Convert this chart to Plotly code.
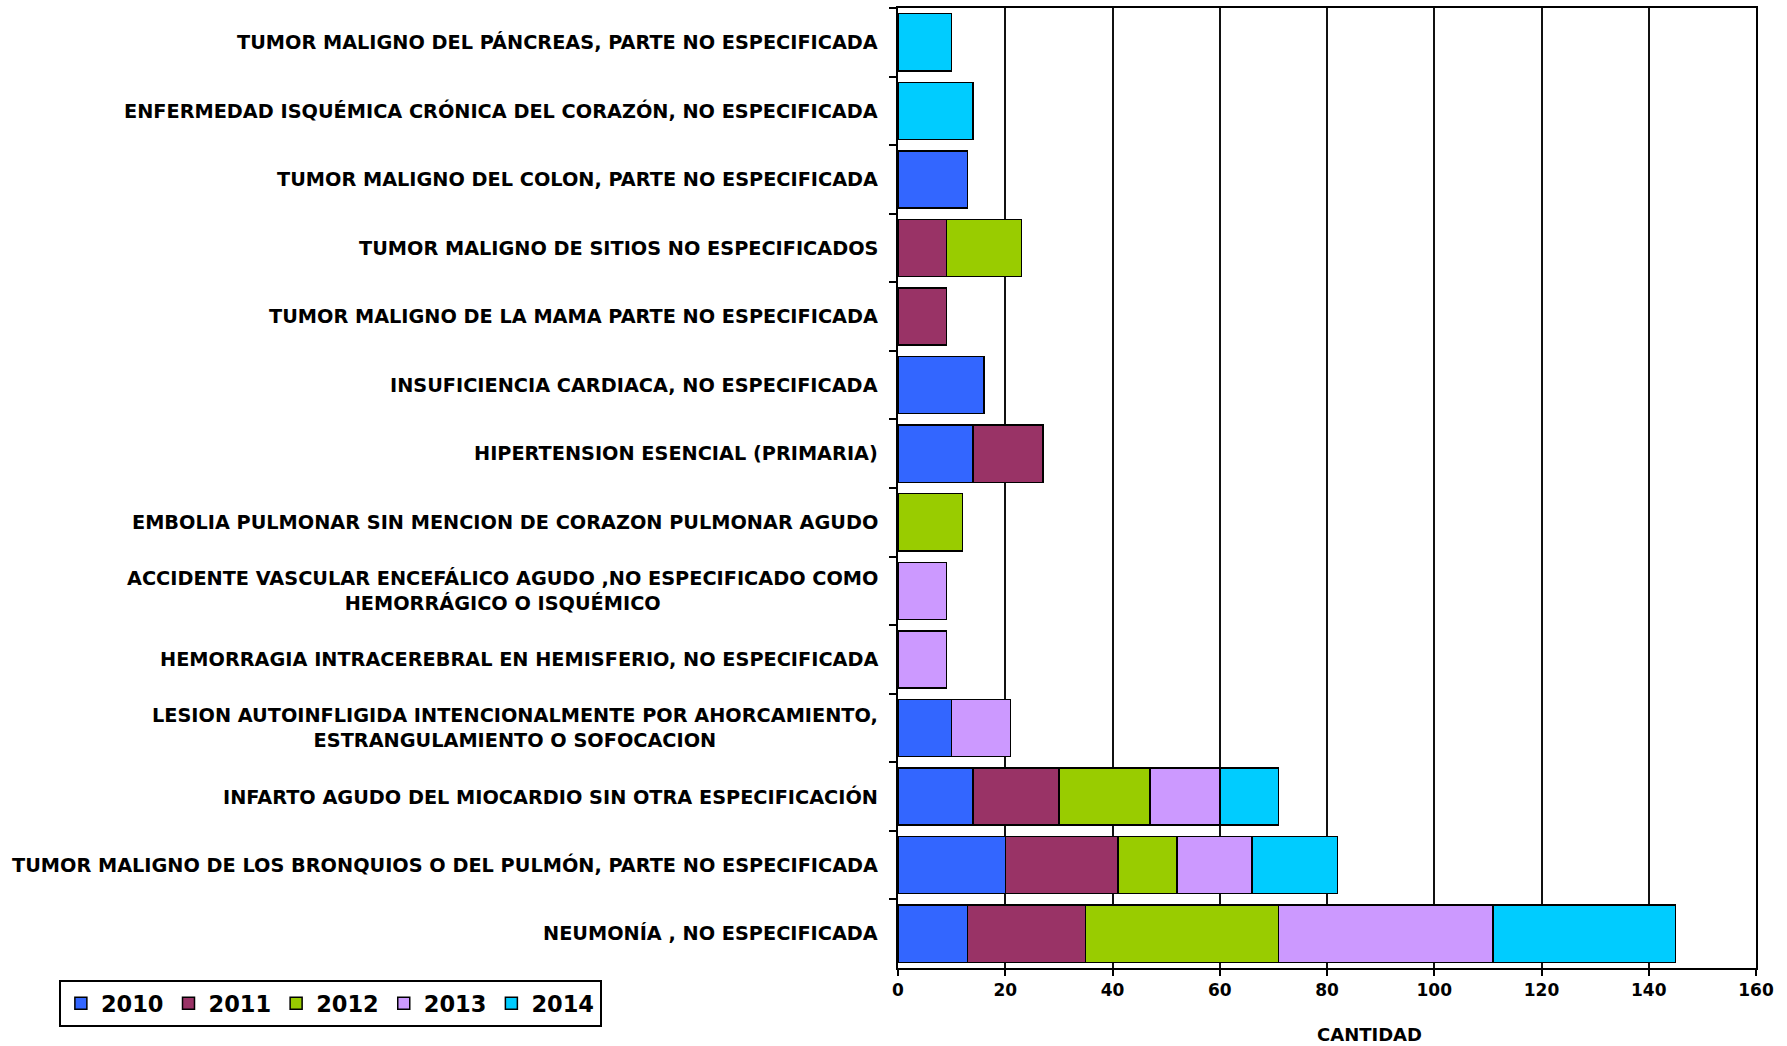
import plotly.graph_objects as go

categories = [
    "TUMOR MALIGNO DEL PÁNCREAS, PARTE NO ESPECIFICADA",
    "ENFERMEDAD ISQUÉMICA CRÓNICA DEL CORAZÓN, NO ESPECIFICADA",
    "TUMOR MALIGNO DEL COLON, PARTE NO ESPECIFICADA",
    "TUMOR MALIGNO DE SITIOS NO ESPECIFICADOS",
    "TUMOR MALIGNO DE LA MAMA PARTE NO ESPECIFICADA",
    "INSUFICIENCIA CARDIACA, NO ESPECIFICADA",
    "HIPERTENSION ESENCIAL (PRIMARIA)",
    "EMBOLIA PULMONAR SIN MENCION DE CORAZON PULMONAR AGUDO",
    "ACCIDENTE VASCULAR ENCEFÁLICO AGUDO ,NO ESPECIFICADO COMO<br>HEMORRÁGICO O ISQUÉMICO",
    "HEMORRAGIA INTRACEREBRAL EN HEMISFERIO, NO ESPECIFICADA",
    "LESION AUTOINFLIGIDA INTENCIONALMENTE POR AHORCAMIENTO,<br>ESTRANGULAMIENTO O SOFOCACION",
    "INFARTO AGUDO DEL MIOCARDIO SIN OTRA ESPECIFICACIÓN",
    "TUMOR MALIGNO DE LOS BRONQUIOS O DEL PULMÓN, PARTE NO ESPECIFICADA",
    "NEUMONÍA , NO ESPECIFICADA",
]

years = ["2010", "2011", "2012", "2013", "2014"]

v2010 = [None, None, 13, None, None, 16, 14, None, None, None, 10, 14, 20, 13]
v2011 = [None, None, None, 9, 9, None, 13, None, None, None, None, 16, 21, 22]
v2012 = [None, None, None, 14, None, None, None, 12, None, None, None, 17, 11, 36]
v2013 = [None, None, None, None, None, None, None, None, 9, 9, 11, 13, 14, 40]
v2014 = [10, 14, None, None, None, None, None, None, None, None, None, 11, 16, 34]

colors = ["#3366FF", "#993366", "#99CC00", "#CC99FF", "#00CCFF"]

x_ticks = [0, 20, 40, 60, 80, 100, 120, 140, 160]

series = [v2010, v2011, v2012, v2013, v2014]

FONT = "DejaVu Sans"

fig = go.Figure()
for name, vals, col in zip(years, series, colors):
    fig.add_trace(go.Bar(
        y=categories, x=vals, name=name, orientation="h",
        marker=dict(color=col, line=dict(color="#000000", width=1.5)),
    ))

annotations = []
for c in categories:
    annotations.append(dict(
        x=0, xref="paper", y=c, yref="y", xanchor="right", yanchor="middle",
        xshift=-18, text=c, showarrow=False, align="center",
        font=dict(family=FONT, size=19.3, color="#000", weight="bold"),
    ))
annotations.append(dict(
    x=0.550, xref="paper", y=-0.0697, yref="paper", xanchor="center", yanchor="middle",
    text="CANTIDAD", showarrow=False,
    font=dict(family=FONT, size=18, color="#000", weight="bold"),
))

fig.update_layout(
    width=1787, height=1046,
    barmode="stack", bargap=0.166,
    paper_bgcolor="white", plot_bgcolor="white",
    margin=dict(l=898, r=31, t=6, b=78),
    showlegend=True,
    legend=dict(
        orientation="h", x=-0.978, y=-0.0125, xanchor="left", yanchor="top",
        bordercolor="#000", borderwidth=2, bgcolor="white",
        font=dict(family=FONT, size=22.5, color="#000", weight="bold"),
        traceorder="normal",
    ),
    annotations=annotations,
    xaxis=dict(
        range=[0, 160], tickvals=x_ticks, ticktext=[str(t) for t in x_ticks],
        showgrid=True, gridcolor="#111", gridwidth=2,
        showline=True, linecolor="#000", linewidth=2, mirror=True,
        ticks="outside", ticklen=6, tickwidth=2, tickcolor="#000",
        zeroline=False,
        tickfont=dict(family=FONT, size=17, color="#000", weight="bold"),
    ),
    yaxis=dict(
        autorange="reversed", type="category",
        showline=True, linecolor="#000", linewidth=2, mirror=True,
        ticks="outside", tickson="boundaries", ticklen=7, tickwidth=2, tickcolor="#000",
        showticklabels=False, showgrid=False,
    ),
)

fig.write_html("out.html", config={"displayModeBar": False},
               post_script="document.body.style.margin='0';")
